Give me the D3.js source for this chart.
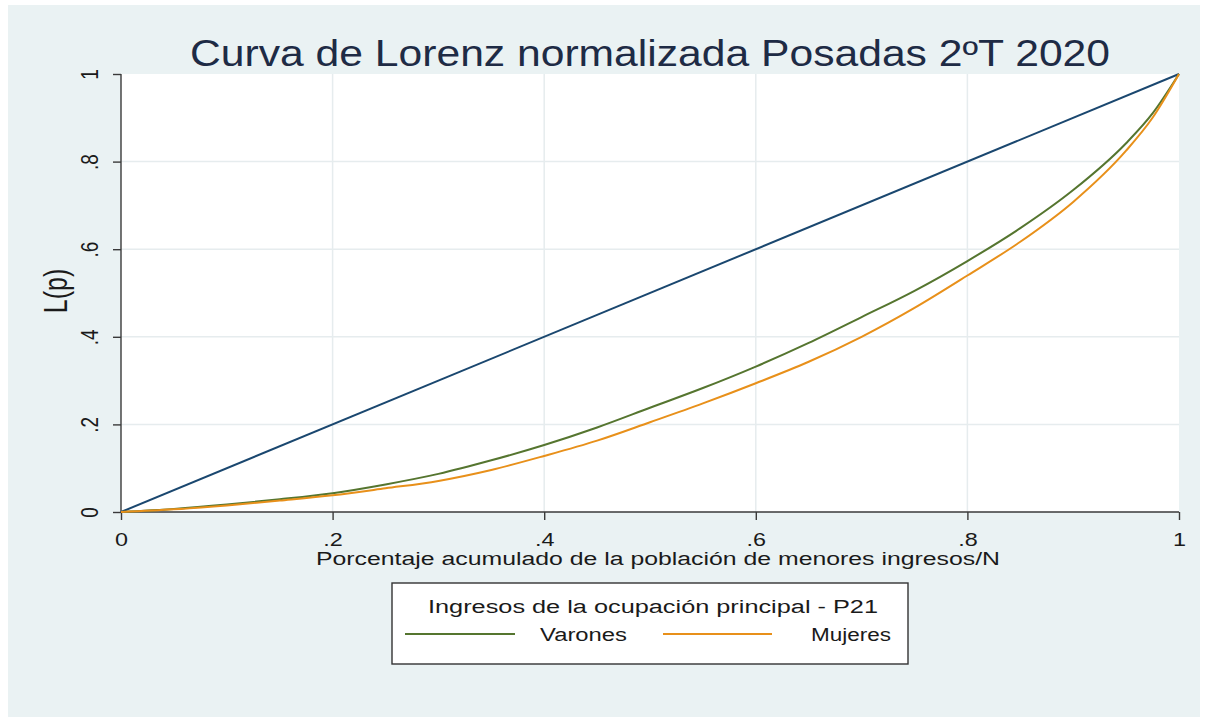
<!DOCTYPE html>
<html>
<head>
<meta charset="utf-8">
<script src="https://cdn.jsdelivr.net/npm/d3@7"></script>
<style>
  html, body { margin: 0; padding: 0; background: #ffffff; }
  svg { display: block; font-family: "Liberation Sans", Arial, sans-serif; }
</style>
</head>
<body>
<svg id="chart" width="1205" height="722"></svg>
<script>
// Cumulative population share (p) and Lorenz ordinates L(p)
const pShare   = [0, 0.05, 0.10, 0.15, 0.20, 0.25, 0.30, 0.35, 0.40, 0.45, 0.50,
                  0.55, 0.60, 0.65, 0.70, 0.75, 0.80, 0.85, 0.90, 0.95, 0.975, 1.00];
const varones  = [0, 0.007, 0.017, 0.029, 0.043, 0.063, 0.087, 0.118, 0.153, 0.193, 0.238,
                  0.283, 0.332, 0.386, 0.445, 0.505, 0.573, 0.648, 0.735, 0.842, 0.910, 1.000];
const mujeres  = [0, 0.006, 0.015, 0.026, 0.038, 0.054, 0.071, 0.096, 0.128, 0.163, 0.205,
                  0.248, 0.294, 0.343, 0.400, 0.466, 0.540, 0.617, 0.708, 0.825, 0.900, 1.000];
const equality = [0, 1];

const xTicks = [0, 0.2, 0.4, 0.6, 0.8, 1];
const yTicks = [0, 0.2, 0.4, 0.6, 0.8, 1];
const tickLabel = v => v === 0 ? "0" : v === 1 ? "1" : String(v).replace(/^0/, "");

const titleText  = "Curva de Lorenz normalizada Posadas 2ºT 2020";
const xTitle     = "Porcentaje acumulado de la población de menores ingresos/N";
const yTitle     = "L(p)";
const legendHead = "Ingresos de la ocupación principal - P21";
const seriesNames = ["Varones", "Mujeres"];

const colNavy = "#1a476f", colGreen = "#55752f", colOrange = "#e8901a";
const textCol = "#1a1a1a";
const wide = 1.3;   // horizontal widening of the text glyphs

const svg = d3.select("#chart");

// outer graph region
svg.append("rect").attr("x", 8).attr("y", 5).attr("width", 1192).attr("height", 712)
  .attr("fill", "#eaf2f3");

const pLeft = 121, pRight = 1179, pTop = 74, pBottom = 512;
const x = d3.scaleLinear().domain([0, 1]).range([pLeft, pRight]);
const y = d3.scaleLinear().domain([0, 1]).range([pBottom, pTop]);

// plot region
svg.append("rect").attr("x", pLeft).attr("y", pTop)
  .attr("width", pRight - pLeft).attr("height", pBottom - pTop).attr("fill", "#ffffff");

// grid
const grid = svg.append("g");
grid.selectAll("line.gx").data(xTicks.filter(t => t > 0 && t < 1)).enter().append("line")
  .attr("x1", d => x(d)).attr("x2", d => x(d)).attr("y1", pTop).attr("y2", pBottom)
  .attr("stroke", "#e6ecee").attr("stroke-width", 1.5);
grid.selectAll("line.gy").data(yTicks.filter(t => t > 0 && t < 1)).enter().append("line")
  .attr("y1", d => y(d)).attr("y2", d => y(d)).attr("x1", pLeft).attr("x2", pRight)
  .attr("stroke", "#e6ecee").attr("stroke-width", 1.5);

// axes
const xAxis = svg.append("g").attr("transform", `translate(0,${pBottom})`)
  .call(d3.axisBottom(x).tickValues(xTicks).tickFormat(tickLabel).tickSize(8).tickPadding(0));
const yAxis = svg.append("g").attr("transform", `translate(${pLeft},0)`)
  .call(d3.axisLeft(y).tickValues(yTicks).tickFormat(tickLabel).tickSize(8).tickPadding(0));

[xAxis, yAxis].forEach(a => {
  a.select(".domain").attr("stroke", "#3a3a3a").attr("stroke-width", 1.4);
  a.selectAll(".tick line").attr("stroke", "#3a3a3a").attr("stroke-width", 1.4);
  a.selectAll("text").attr("fill", textCol).style("font-size", "18px")
    .style("font-family", "'Liberation Sans', Arial, sans-serif");
});
xAxis.selectAll(".domain").attr("d", `M${pLeft},0H${pRight}`);
yAxis.selectAll(".domain").attr("d", `M0,${pBottom}V${pTop}`);
xAxis.selectAll(".tick text")
  .attr("y", 0).attr("dy", null)
  .attr("transform", `translate(0,34) scale(${wide},1)`);
yAxis.selectAll(".tick text")
  .attr("x", 0).attr("dy", null)
  .attr("text-anchor", "middle")
  .attr("transform", `translate(-31,0) scale(${wide},1) rotate(-90)`)
  .attr("dominant-baseline", "central")
  .style("font-size", "19px");

// lines
const line = d3.line().x(d => x(d[0])).y(d => y(d[1])).curve(d3.curveMonotoneX);
const plot = svg.append("g");
plot.append("path").datum(equality.map(v => [v, v])).attr("d", line)
  .attr("fill", "none").attr("stroke", colNavy).attr("stroke-width", 2);
plot.append("path").datum(pShare.map((p, i) => [p, varones[i]])).attr("d", line)
  .attr("fill", "none").attr("stroke", colGreen).attr("stroke-width", 2);
plot.append("path").datum(pShare.map((p, i) => [p, mujeres[i]])).attr("d", line)
  .attr("fill", "none").attr("stroke", colOrange).attr("stroke-width", 2);

// titles
svg.append("text").attr("x", 190).attr("y", 66)
  .attr("textLength", 920).attr("lengthAdjust", "spacingAndGlyphs")
  .attr("fill", "#1e2b45").style("font-size", "36px").text(titleText);
svg.append("text").attr("x", 316).attr("y", 565)
  .attr("textLength", 684).attr("lengthAdjust", "spacingAndGlyphs")
  .attr("fill", textCol).style("font-size", "18px").text(xTitle);
svg.append("text").attr("transform", `translate(67,291) scale(${wide},1) rotate(-90)`)
  .attr("text-anchor", "middle")
  .attr("fill", textCol).style("font-size", "25px").text(yTitle);

// legend
const lg = svg.append("g");
lg.append("rect").attr("x", 392).attr("y", 583).attr("width", 516).attr("height", 81)
  .attr("fill", "#ffffff").attr("stroke", "#333").attr("stroke-width", 1.4);
lg.append("text").attr("x", 428).attr("y", 613)
  .attr("textLength", 450).attr("lengthAdjust", "spacingAndGlyphs")
  .attr("fill", textCol).style("font-size", "18px").text(legendHead);
const items = [
  {name: seriesNames[0], color: colGreen, x0: 405, x1: 515, tx: 540, tw: 87},
  {name: seriesNames[1], color: colOrange, x0: 663, x1: 772, tx: 811, tw: 80}
];
items.forEach(it => {
  lg.append("line").attr("x1", it.x0).attr("x2", it.x1).attr("y1", 634).attr("y2", 634)
    .attr("stroke", it.color).attr("stroke-width", 2);
  lg.append("text").attr("x", it.tx).attr("y", 641)
    .attr("textLength", it.tw).attr("lengthAdjust", "spacingAndGlyphs")
    .attr("fill", textCol).style("font-size", "18px").text(it.name);
});
</script>
</body>
</html>
